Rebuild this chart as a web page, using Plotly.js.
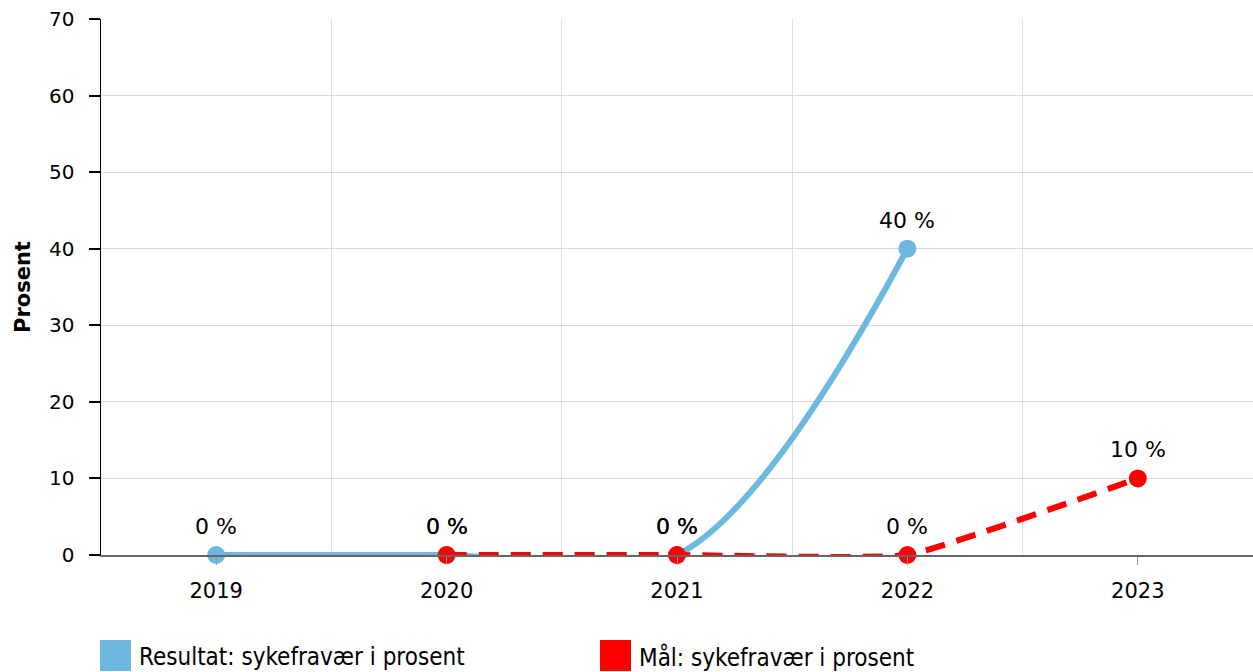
<!DOCTYPE html>
<html>
<head>
<meta charset="utf-8">
<script src="https://cdn.plot.ly/plotly-3.0.1.min.js"></script>
<style>html,body{margin:0;padding:0;background:#fff;}#chart{width:1253px;height:672px;}</style>
</head>
<body>
<div id="chart"></div>
<script>
const resultYears = [2019, 2020, 2021, 2022];
const resultValues = [0, 0, 0, 40];
const targetYears = [2020, 2021, 2022, 2023];
const targetValues = [0, 0, 0, 10];
const tickYears = [2019, 2020, 2021, 2022, 2023];
const yTicks = [0, 10, 20, 30, 40, 50, 60, 70];
const seriesNames = ["Resultat: sykefravær i prosent", "Mål: sykefravær i prosent"];
const yTitle = "Prosent";

const blue = "#6cb8de";
const red = "#ff0000";
const font = "DejaVu Sans, Verdana, sans-serif";

const traces = [
  {
    x: resultYears, y: resultValues, name: seriesNames[0],
    type: "scatter", mode: "lines+markers",
    line: {color: blue, width: 6, shape: "spline", smoothing: 1},
    marker: {color: blue, size: 18},
    showlegend: false, cliponaxis: false, hoverinfo: "x+y"
  },
  {
    x: targetYears, y: targetValues, name: seriesNames[1],
    type: "scatter", mode: "lines+markers",
    line: {color: red, width: 6, shape: "spline", smoothing: 0.35, dash: "20px,12px"},
    marker: {color: red, size: 18},
    showlegend: false, cliponaxis: false, hoverinfo: "x+y"
  }
];

const W = 1152, H = 536, L = 101, B = 555;
const annotations = [];
[[resultYears, resultValues], [targetYears, targetValues]].forEach(([xs, ys]) => {
  xs.forEach((xv, i) => {
    annotations.push({x: xv, y: ys[i], xref: "x", yref: "y",
      text: ys[i] + " %", showarrow: false, yanchor: "bottom", xanchor: "center",
      yshift: 14, font: {family: font, size: 22, color: "#000"}});
  });
});
annotations.push({xref: "paper", yref: "paper", x: (23 - L) / W, y: 0.5,
  xanchor: "center", yanchor: "middle", textangle: -90, showarrow: false,
  text: "<b>" + yTitle + "</b>", font: {family: font, size: 21, color: "#000"}});

const legendColors = [blue, red];
const legendX = [100, 600];
const shapes = [];
legendColors.forEach((c, i) => {
  shapes.push({type: "rect", xref: "paper", yref: "paper",
    x0: (legendX[i] - L) / W, x1: (legendX[i] + 31 - L) / W,
    y0: -(640 - B) / H, y1: -(671 - B) / H,
    fillcolor: c, line: {width: 0}});
  annotations.push({xref: "paper", yref: "paper",
    x: (legendX[i] + 37 - L) / W, y: -(657 - B) / H,
    xanchor: "left", yanchor: "middle", showarrow: false,
    text: seriesNames[i],
    font: {family: "DejaVu Sans Condensed, DejaVu Sans, sans-serif", size: 24, color: "#000"}});
});

const layout = {
  width: 1253, height: 672,
  margin: {l: 101, r: 0, t: 19, b: 117},
  paper_bgcolor: "#fff", plot_bgcolor: "#fff",
  font: {family: font, size: 18, color: "#000"},
  showlegend: false,
  xaxis: {
    range: [2018.5, 2023.5],
    tickmode: "array", tickvals: tickYears, ticktext: tickYears.map(String),
    showgrid: false, zeroline: false,
    showline: true, linecolor: "#666", linewidth: 2,
    ticks: "outside", ticklen: 8, tickcolor: "#999", tickwidth: 1,
    ticklabelstandoff: 8,
    tickfont: {family: font, size: 21, color: "#000"},
    minor: {tick0: 2018.5, dtick: 1, showgrid: true, gridcolor: "#dedede", gridwidth: 1, ticks: ""},
    fixedrange: true
  },
  yaxis: {
    range: [0, 70],
    tickmode: "array", tickvals: yTicks, ticktext: yTicks.map(v => v + "\u2002"),
    showgrid: true, gridcolor: "#d9d9d9", gridwidth: 1,
    zeroline: false,
    showline: true, linecolor: "#000", linewidth: 1.5,
    ticks: "outside", ticklen: 11, tickcolor: "#000", tickwidth: 2,
    tickfont: {family: font, size: 20, color: "#000"},
    fixedrange: true
  },
  shapes: shapes,
  annotations: annotations
};

Plotly.newPlot("chart", traces, layout, {displayModeBar: false, staticPlot: true});
</script>
</body>
</html>
